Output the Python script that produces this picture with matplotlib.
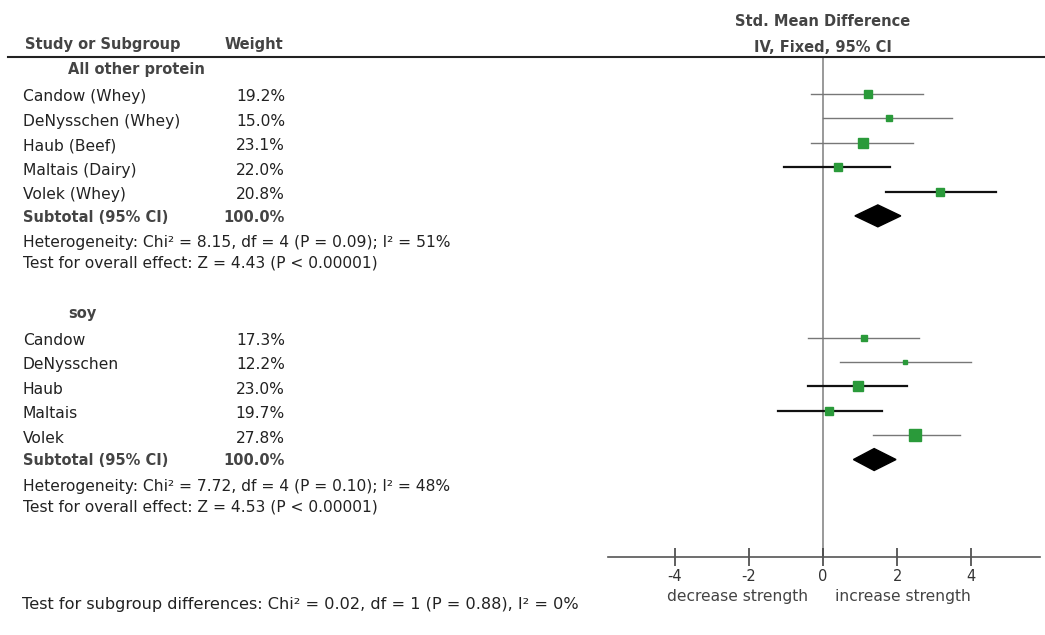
import matplotlib
matplotlib.use('Agg')
import matplotlib.pyplot as plt
from matplotlib.transforms import blended_transform_factory

plt.rcParams['font.family'] = ['DejaVu Sans']

# data
grupe = ['All other protein', 'soy']
studii = [['Candow (Whey)', 'DeNysschen (Whey)', 'Haub (Beef)', 'Maltais (Dairy)', 'Volek (Whey)'],
          ['Candow', 'DeNysschen', 'Haub', 'Maltais', 'Volek']]
ponderi = [[19.2, 15.0, 23.1, 22.0, 20.8],
           [17.3, 12.2, 23.0, 19.7, 27.8]]
smd = [[1.21, 1.78, 1.07, 0.39, 3.16],
       [1.11, 2.20, 0.93, 0.17, 2.49]]
ci_jos = [[-0.33, 0.00, -0.33, -1.05, 1.70],
          [-0.40, 0.46, -0.40, -1.21, 1.34]]
ci_sus = [[2.71, 3.48, 2.44, 1.81, 4.68],
          [2.60, 4.00, 2.28, 1.59, 3.70]]
total = [1.48, 1.38]
total_jos = [0.86, 0.82]
total_sus = [2.10, 1.97]
heterogen = ['Heterogeneity: Chi\u00b2 = 8.15, df = 4 (P = 0.09); I\u00b2 = 51%',
             'Heterogeneity: Chi\u00b2 = 7.72, df = 4 (P = 0.10); I\u00b2 = 48%']
efect = ['Test for overall effect: Z = 4.43 (P < 0.00001)',
         'Test for overall effect: Z = 4.53 (P < 0.00001)']
subgrup = 'Test for subgroup differences: Chi\u00b2 = 0.02, df = 1 (P = 0.88), I\u00b2 = 0%'
ticks = [-4, -2, 0, 2, 4]

W, H = 1045, 635
fig = plt.figure(figsize=(W / 100, H / 100), dpi=100)
ax = fig.add_axes([608 / W, 1 - 557 / H, (1040 - 608) / W, (557 - 57) / H])
ax.set_xlim(-5.81, 5.86)
ax.set_ylim(19, -1.52)
for s in ['top', 'left', 'right']:
    ax.spines[s].set_visible(False)
ax.spines['bottom'].set_color('#555555')
ax.spines['bottom'].set_linewidth(1.2)
ax.set_yticks([])
ax.set_xticks(ticks)
ax.set_xticklabels([str(t) for t in ticks])
ax.tick_params(axis='x', direction='inout', length=13, width=1.2, color='#444444',
               labelsize=10.5, labelcolor='#333333', pad=2)
ax.axvline(0, color='#888888', lw=1.2, zorder=1)

verde = '#2a9a3a'
tr = blended_transform_factory(fig.transFigure, ax.transData)
txt = '#222222'
gri = '#444444'
fb = 10.5   # bold
fs = 11.2   # normal

for g in range(2):
    baza = g * 10
    ax.text(68 / W, baza - 1, grupe[g], transform=tr, ha='left', va='center',
            fontsize=fb, fontweight='bold', color=gri)
    for i in range(5):
        y = baza + i
        gros = ci_jos[g][i] < -1 or ponderi[g][i] in (20.8, 23.0)
        ax.plot([ci_jos[g][i], ci_sus[g][i]], [y, y],
                color='#111111' if gros else '#777777', lw=1.6 if gros else 1.0, zorder=2)
        ax.plot(smd[g][i], y, marker='s', color=verde, ls='none',
                ms=0.4 * ponderi[g][i] * 0.72, zorder=3)
        ax.text(23 / W, y + 0.12, studii[g][i], transform=tr, ha='left', va='center',
                fontsize=fs, color=txt)
        ax.text(285 / W, y + 0.12, f'{ponderi[g][i]:.1f}%', transform=tr, ha='right',
                va='center', fontsize=fs, color=txt)
    yd = baza + 5
    ax.fill([total_jos[g], total[g], total_sus[g], total[g]],
            [yd, yd - 0.45, yd, yd + 0.45], color='black', zorder=3)
    ax.text(23 / W, yd + 0.05, 'Subtotal (95% CI)', transform=tr, ha='left', va='center',
            fontsize=fb, fontweight='bold', color=gri)
    ax.text(285 / W, yd + 0.05, '100.0%', transform=tr, ha='right', va='center',
            fontsize=fb, fontweight='bold', color=gri)
    ax.text(23 / W, yd + 1.1, heterogen[g], transform=tr, ha='left', va='center',
            fontsize=fs, color=txt)
    ax.text(23 / W, yd + 1.95, efect[g], transform=tr, ha='left', va='center',
            fontsize=fs, color=txt)

# header
fig.add_artist(plt.Line2D([8 / W, 1], [1 - 57 / H, 1 - 57 / H], color='#222222', lw=1.5))
fig.text(25 / W, 1 - 45 / H, 'Study or Subgroup', ha='left', va='center',
         fontsize=fb, fontweight='bold', color=gri)
fig.text(225 / W, 1 - 45 / H, 'Weight', ha='left', va='center',
         fontsize=fb, fontweight='bold', color=gri)
fig.text(823 / W, 1 - 22 / H, 'Std. Mean Difference', ha='center', va='center',
         fontsize=fb, fontweight='bold', color=gri)
fig.text(823 / W, 1 - 47 / H, 'IV, Fixed, 95% CI', ha='center', va='center',
         fontsize=fb, fontweight='bold', color=gri)

fig.text(738 / W, 1 - 597 / H, 'decrease strength', ha='center', va='center',
         fontsize=fs, color=gri)
fig.text(903 / W, 1 - 597 / H, 'increase strength', ha='center', va='center',
         fontsize=fs, color=gri)
fig.text(22 / W, 1 - 604 / H, subgrup, ha='left', va='center', fontsize=11.6, color=txt)

fig.savefig('out.png', dpi=100)
